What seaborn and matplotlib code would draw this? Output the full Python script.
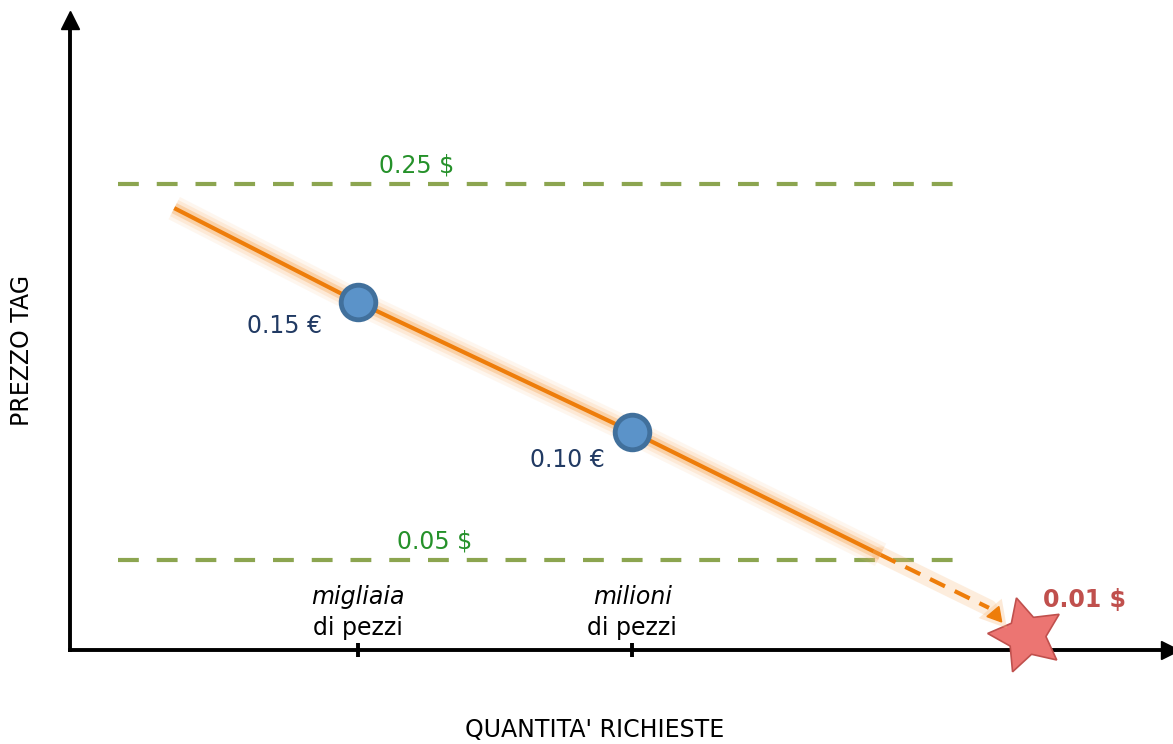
import numpy as np
import matplotlib
matplotlib.use('Agg')
import matplotlib.pyplot as plt
import matplotlib.patheffects as pe
import seaborn as sns

## Data (conceptual units)
line_qty      = [0.33, 1.0, 2.0, 2.905]
line_price    = [0.237, 0.187, 0.118, 0.0527]
trend_qty     = [2.905, 3.30]
trend_price   = [0.0527, 0.0245]
arrow_qty     = [3.325]
arrow_price   = [0.0207]
point_qty     = [1.0, 2.0]
point_price   = [0.187, 0.118]
point_labels  = ['0.15 €', '0.10 €']
ref_price     = [0.25, 0.05]
ref_labels    = ['0.25 $', '0.05 $']
ref_label_qty = [1.215, 1.281]
ref_span      = [0.124, 3.19]
star_qty      = [3.434]
star_price    = [0.0101]
star_label    = '0.01 $'
tick_qty      = [1.0, 2.0]
tick_top      = ['migliaia', 'milioni']
tick_bottom   = ['di pezzi', 'di pezzi']

## Style
sns.set_theme(style='white')
plt.rcParams['font.family'] = ['DejaVu Sans']
orange = '#EE7D0A'
green_line = '#8CA550'
green_txt = '#25912A'
navy = '#213A63'
red_txt = '#C0504D'
fs = 17

fig = plt.figure(figsize=(11.73, 7.44), dpi=100)
ax = fig.add_axes([70/1173, 94/744, 1100/1173, 630/744])
ax.set_xlim(-0.05, 3.96)
ax.set_ylim(0.0021, 0.337)

## Reference dashed lines
for p, lab, lq in zip(ref_price, ref_labels, ref_label_qty):
    ax.plot(ref_span, [p, p], color=green_line, lw=3, dashes=(5, 4.3), solid_capstyle='butt')
    ax.annotate(lab, xy=(lq, p), xytext=(0, 13), textcoords='offset points',
                ha='center', va='center', color=green_txt, fontsize=fs)

## Orange trend with soft glow
glow = [pe.Stroke(linewidth=18, foreground='#F9B97A', alpha=0.12),
        pe.Stroke(linewidth=13, foreground='#F9B97A', alpha=0.2),
        pe.Stroke(linewidth=8, foreground='#F6A552', alpha=0.35), pe.Normal()]
sns.lineplot(x=line_qty, y=line_price, color=orange, lw=3, ax=ax, sort=False,
             path_effects=glow, solid_capstyle='butt')
ax.plot(trend_qty, trend_price, color='#F9B97A', lw=12, alpha=0.25, solid_capstyle='round')
ax.plot(trend_qty, trend_price, color=orange, lw=3, dashes=(4, 2.6))
ax.plot(arrow_qty, arrow_price, marker=(3, 0, -20), ms=13, color=orange, lw=0, zorder=7,
        path_effects=[pe.Stroke(linewidth=6, foreground='#F9B97A', alpha=0.3), pe.Normal()])

## Price points
sns.scatterplot(x=point_qty, y=point_price, s=620, color='#5B93C9', edgecolor='#41709C',
                linewidth=3.5, ax=ax, zorder=5)
for q, p, lab, off in zip(point_qty, point_price, point_labels, [(-53, -17), (-47, -20)]):
    ax.annotate(lab, xy=(q, p), xytext=off, textcoords='offset points',
                ha='center', va='center', color=navy, fontsize=fs)

## Target star
ax.plot(star_qty, star_price, marker=(5, 1, 15), ms=56, color='#EC7572',
        markeredgecolor='#C0504D', mew=1.2, lw=0, clip_on=False, zorder=6)
ax.annotate(star_label, xy=(star_qty[0], star_price[0]), xytext=(42, 25),
            textcoords='offset points', ha='center', va='center',
            color=red_txt, fontsize=fs, fontweight='bold')

## Axes as arrows
sns.despine(ax=ax)
for s in ['left', 'bottom']:
    ax.spines[s].set_linewidth(2.8)
    ax.spines[s].set_color('black')
ax.plot(1, 0, marker='>', ms=13, color='black', transform=ax.transAxes, clip_on=False)
ax.plot(0, 1, marker='^', ms=13, color='black', transform=ax.transAxes, clip_on=False)
ax.set_yticks([])
ax.set_xticks(tick_qty)
ax.set_xticklabels([])
ax.tick_params(axis='x', direction='inout', length=10, width=2.8, color='black', bottom=True)
for q, t, b in zip(tick_qty, tick_top, tick_bottom):
    ax.annotate(t, xy=(q, 0), xycoords=ax.get_xaxis_transform(), xytext=(0, 38),
                textcoords='offset points', ha='center', va='center',
                fontsize=fs, style='italic', color='black')
    ax.annotate(b, xy=(q, 0), xycoords=ax.get_xaxis_transform(), xytext=(0, 16),
                textcoords='offset points', ha='center', va='center',
                fontsize=fs, color='black')

ax.set_xlabel("QUANTITA' RICHIESTE", fontsize=17, color='black')
ax.set_ylabel('PREZZO TAG', fontsize=17, color='black')
ax.xaxis.set_label_coords(0.477, -0.108)
ax.yaxis.set_label_coords(-0.033, 0.475)

fig.savefig('out.png', dpi=100)
